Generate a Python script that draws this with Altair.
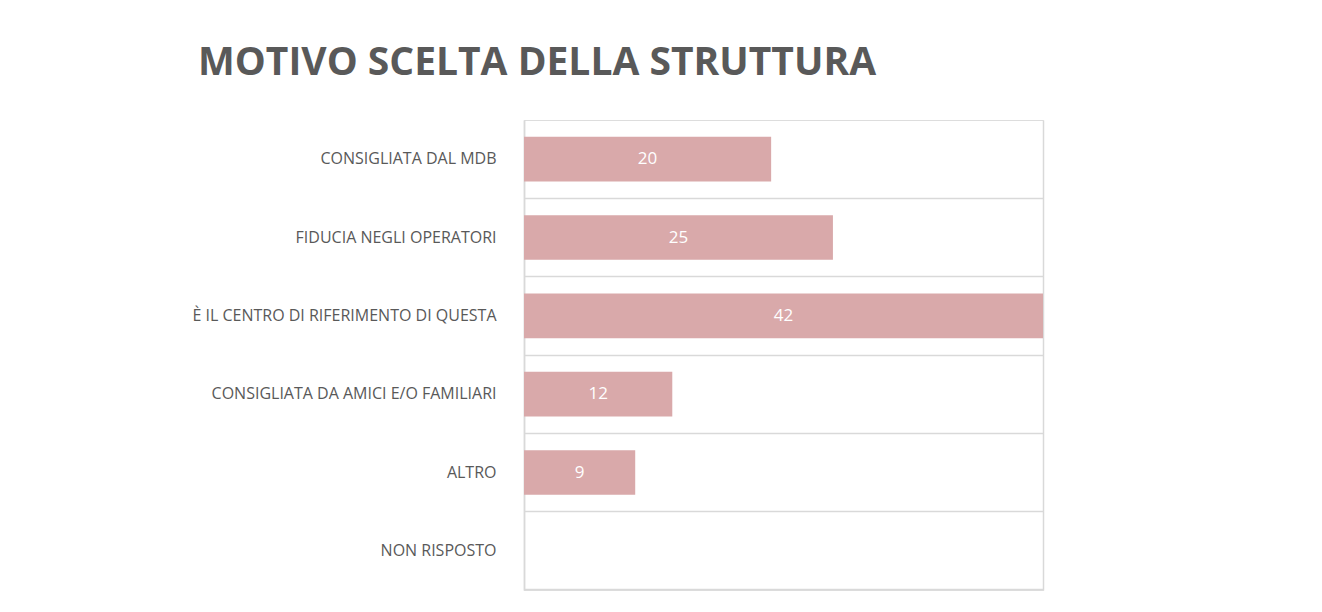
import altair as alt
import pandas as pd

categories = [
    "CONSIGLIATA DAL MDB",
    "FIDUCIA NEGLI OPERATORI",
    "È IL CENTRO DI RIFERIMENTO DI QUESTA",
    "CONSIGLIATA DA AMICI E/O FAMILIARI",
    "ALTRO",
    "NON RISPOSTO",
]
values = [20, 25, 42, 12, 9, None]
labels = ["20", "25", "42", "12", "9", ""]

df = pd.DataFrame({"cat": categories, "val": values, "lab": labels})

y_enc = alt.Y(
    "cat:N",
    sort=categories,
    title=None,
    scale=alt.Scale(paddingInner=0, paddingOuter=0),
    axis=alt.Axis(
        labelFont="Open Sans",
        labelFontSize=16,
        labelColor="#595959",
        labelPadding=28,
        ticks=False,
        domain=True,
        domainColor="#D9D9D9",
        domainWidth=1.5,
        grid=True,
        gridColor="#D9D9D9",
        gridWidth=1.5,
        bandPosition=1,
        minExtent=516,
        maxExtent=516,
        labelLimit=480,
    ),
)

x_enc = alt.X(
    "val:Q",
    title=None,
    scale=alt.Scale(domain=[0, 42], nice=False),
    axis=alt.Axis(
        values=[0, 42],
        labels=False,
        ticks=False,
        domain=False,
        grid=True,
        gridColor="#D9D9D9",
        gridWidth=1.5,
    ),
)

bars = alt.Chart(df).mark_bar(
    color="#D9A9AA", height=alt.RelativeBandSize(0.57)
).encode(x=x_enc, y=y_enc)

text = alt.Chart(df).transform_filter("datum.val != null").transform_calculate(
    mid="datum.val / 2"
).mark_text(
    font="Open Sans", fontSize=17, color="white", align="center", baseline="middle"
).encode(
    x=alt.X("mid:Q"),
    y=alt.Y("cat:N", sort=categories),
    text="lab:N",
)

chart = alt.layer(bars, text).properties(
    width=519,
    height=470,
    padding={"left": 0, "top": 36, "right": 10, "bottom": 10},
    title=alt.TitleParams(
        "MOTIVO SCELTA DELLA STRUTTURA",
        font="Open Sans",
        fontSize=39,
        fontWeight="bold",
        color="#595959",
        anchor="start",
        frame="bounds",
        dx=190,
        offset=37,
    ),
).configure_view(stroke=None).configure(background="white")

chart.save("out.html", embed_options={"renderer": "svg", "actions": False})
